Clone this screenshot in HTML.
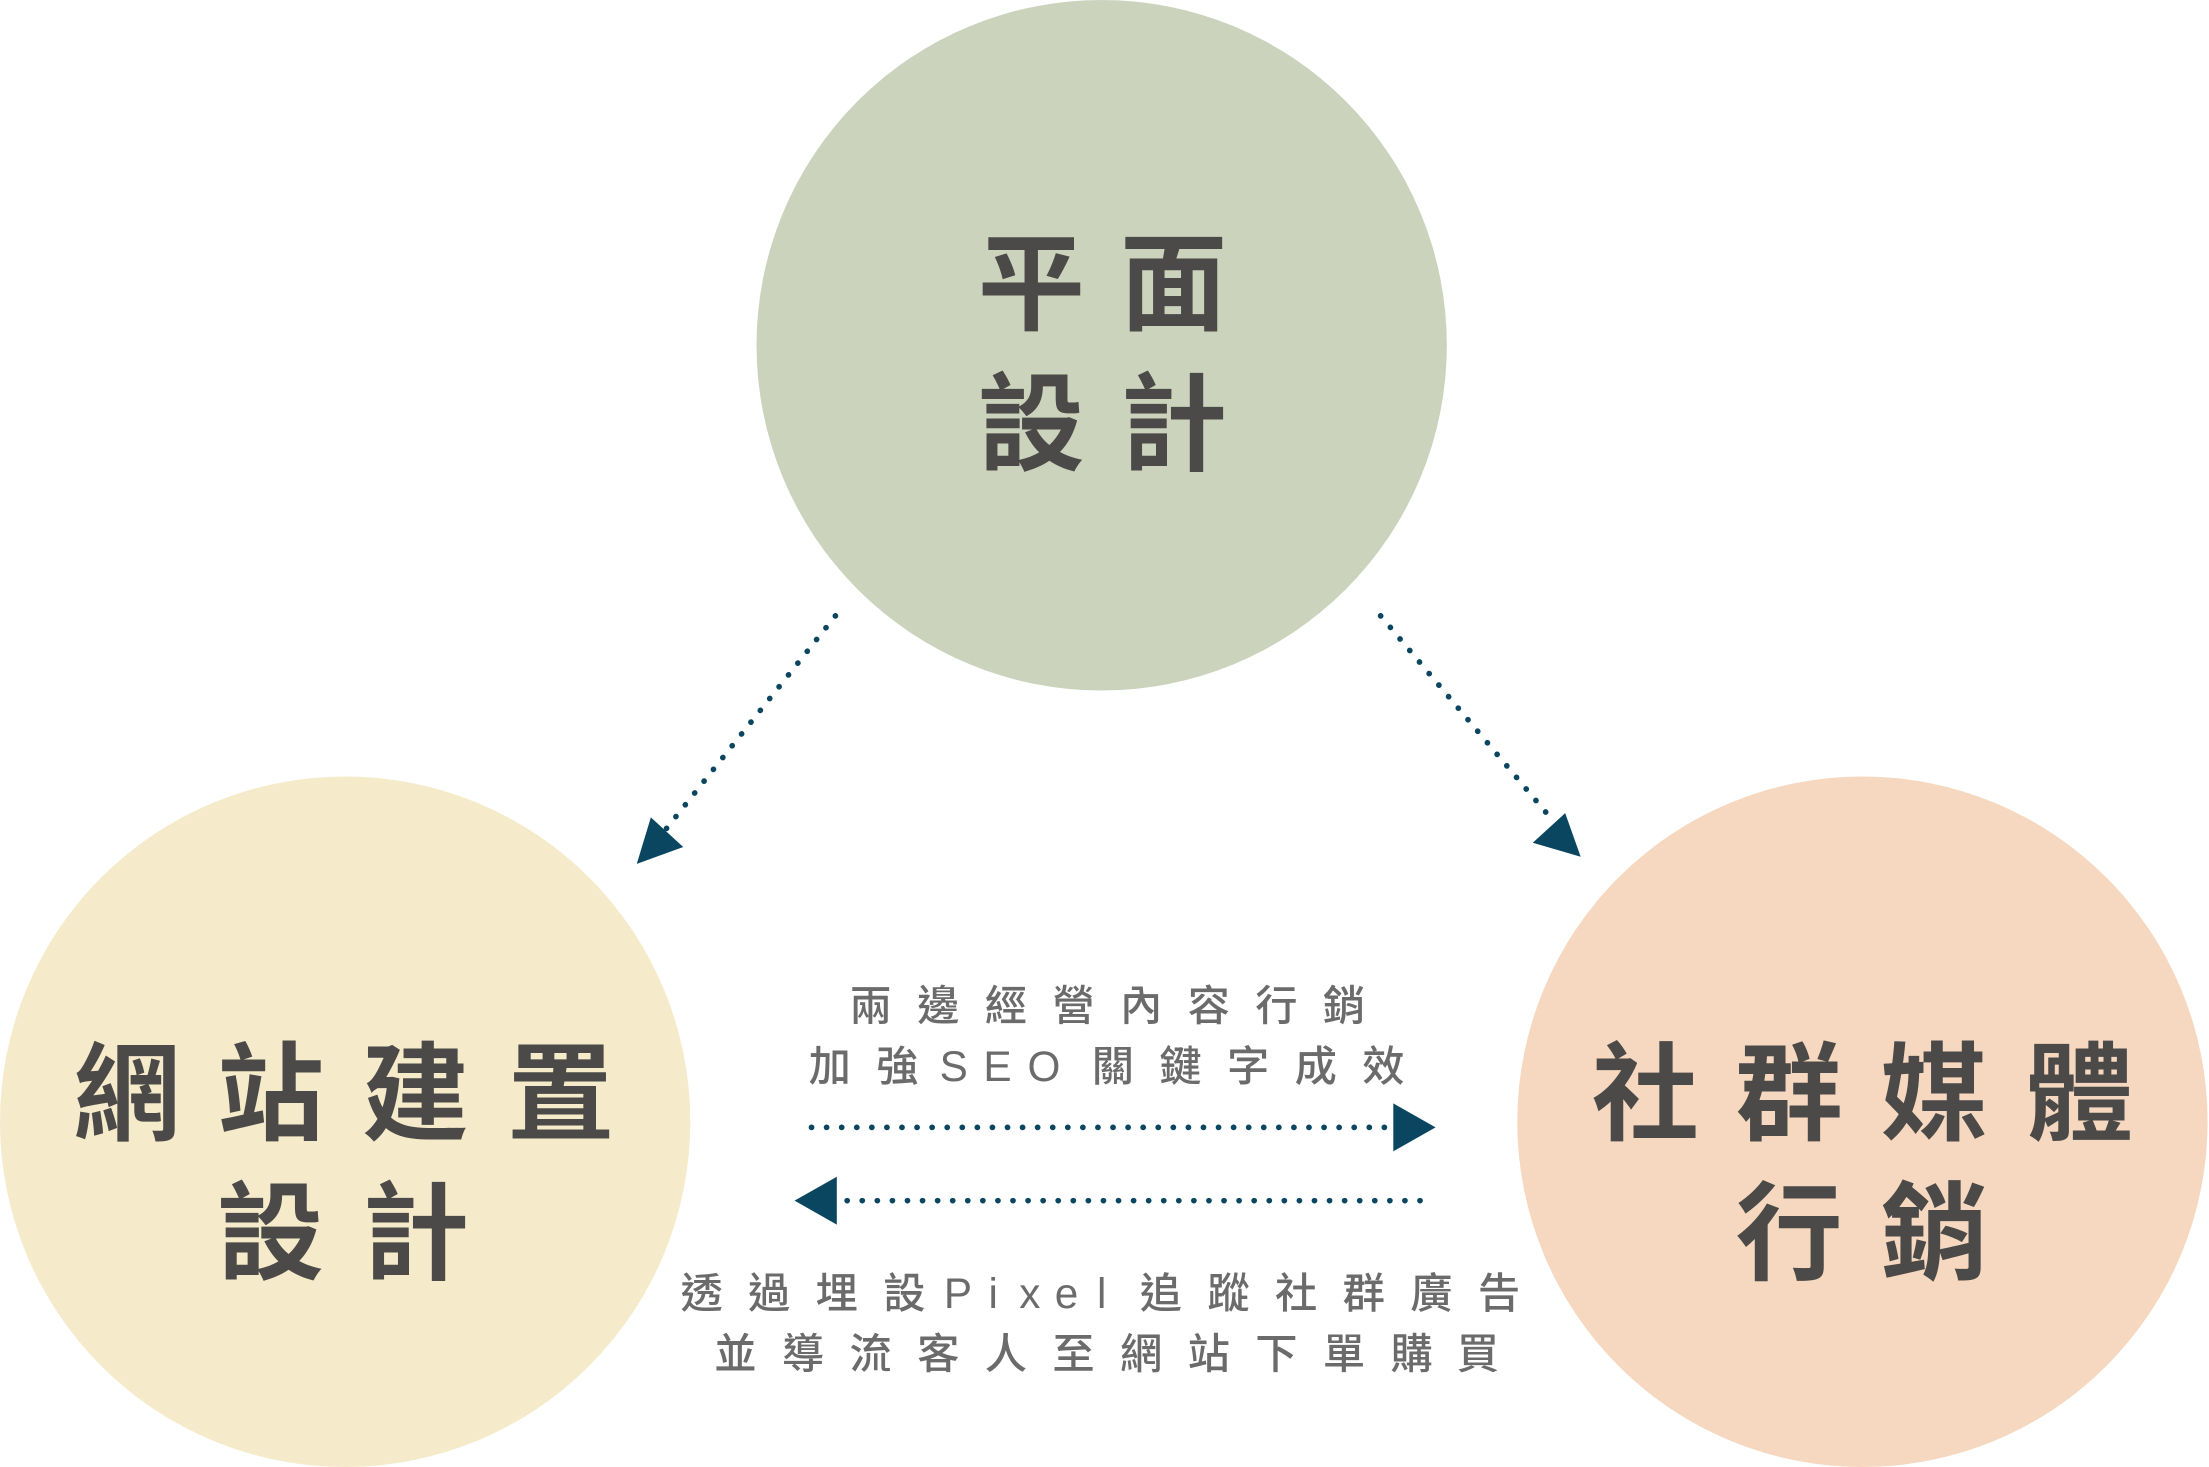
<!DOCTYPE html>
<html><head><meta charset="utf-8"><style>
html,body{margin:0;padding:0;background:#fff;}
svg{display:block;}
.big{font-family:"Liberation Sans","Noto Sans CJK TC",sans-serif;font-weight:700;font-size:76px;fill:#4b4a48;text-anchor:middle;}
.sm{font-family:"Liberation Sans","Noto Sans CJK TC",sans-serif;font-weight:500;font-size:30px;fill:#6b6b6b;text-anchor:middle;}
</style></head><body>
<svg width="2209" height="1467" viewBox="0 0 1568 1041" preserveAspectRatio="none" xmlns="http://www.w3.org/2000/svg">
<circle cx="782" cy="245" r="245" fill="#ccd3bd"/>
<circle cx="245" cy="796" r="245" fill="#f5eaca"/>
<circle cx="1322" cy="796" r="245" fill="#f5d8bf"/>

<text class="big" x="732 833" y="228">平面</text>
<text class="big" x="732 833" y="328">設計</text>
<text class="big" x="90 192 295 398" y="803">網站建置</text>
<text class="big" x="192 295" y="902">設計</text>
<text class="big" x="1168 1270 1373 1476" y="803">社群媒體</text>
<text class="big" x="1270 1373" y="902">行銷</text>

<g stroke="#0b4660" stroke-width="4" stroke-linecap="round" stroke-dasharray="0.1 10.6" fill="none">
<line x1="593" y1="437" x2="473" y2="588"/>
<line x1="980" y1="437" x2="1102" y2="582"/>
<line x1="576" y1="800" x2="988" y2="800"/>
<line x1="1008" y1="852" x2="598" y2="852"/>
</g>
<g fill="#0b4660">
<polygon points="452,613 462,580 485,601"/>
<polygon points="1122,608 1088,598 1111,577"/>
<polygon points="1019,800 989,783 989,817"/>
<polygon points="564,852 594,835 594,869"/>
</g>

<text class="sm" x="618 666 714 762 810 858 906 954" y="724">兩邊經營內容行銷</text>
<text class="sm" x="589 637 677 708 741 790 838 886 934 982" y="767">加強SEO關鍵字成效</text>
<text class="sm" x="498 546 594 642 680 705 731 757 782 824 872 920 968 1016 1064" y="928">透過埋設Pixel追蹤社群廣告</text>
<text class="sm" x="522 570 618 666 714 762 810 858 906 954 1002 1049" y="971">並導流客人至網站下單購買</text>
</svg>
</body></html>
